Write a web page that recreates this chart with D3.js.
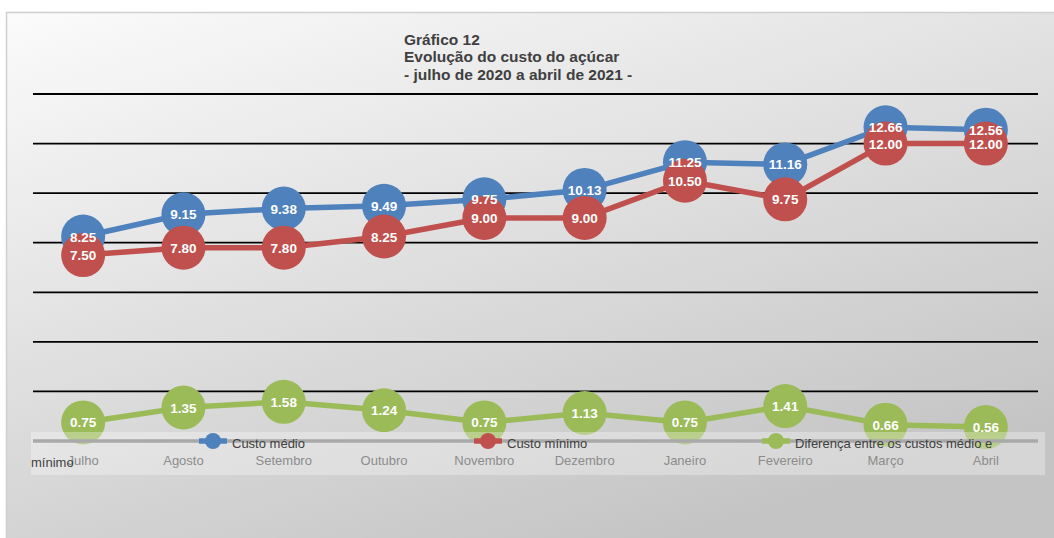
<!DOCTYPE html>
<html><head><meta charset="utf-8">
<script src="https://cdn.jsdelivr.net/npm/d3@7"></script>
<style>html,body{margin:0;padding:0;background:#fff;}svg{display:block;font-family:"Liberation Sans",Arial,sans-serif;}</style>
</head><body>
<svg id="c" width="1054" height="538"></svg>
<script>
const months = ["Julho","Agosto","Setembro","Outubro","Novembro","Dezembro","Janeiro","Fevereiro","Março","Abril"];
const custoMedio = [8.25,9.15,9.38,9.49,9.75,10.13,11.25,11.16,12.66,12.56];
const custoMinimo = [7.50,7.80,7.80,8.25,9.00,9.00,10.50,9.75,12.00,12.00];
const diferenca = [0.75,1.35,1.58,1.24,0.75,1.13,0.75,1.41,0.66,0.56];
const seriesNames = ["Custo médio","Custo mínimo","Diferença entre os custos médio e mínimo"];
const seriesColors = ["#4f81bd","#c0504d","#9bbb59"];
const gridTicks = [2,4,6,8,10,12,14];
const titleLines = ["Gráfico 12","Evolução do custo do açúcar","- julho de 2020 a abril de 2021 -"];

const svg = d3.select("#c");
const defs = svg.append("defs");
const grad = defs.append("linearGradient").attr("id","bg").attr("x1","0").attr("y1","0").attr("x2","0.6").attr("y2","1");
grad.append("stop").attr("offset","0").attr("stop-color","#fbfbfb");
grad.append("stop").attr("offset","1").attr("stop-color","#c4c4c4");
svg.append("rect").attr("x",6.5).attr("y",12.5).attr("width",1060).attr("height",540)
  .attr("fill","url(#bg)").attr("stroke","#cfcfcf").attr("stroke-width",1.5);

const x = d3.scaleBand().domain(months).range([33,1036]);
const y = d3.scaleLinear().domain([0,14]).range([441,94]);
const cx = m => x(m) + x.bandwidth()/2;

// title
const t = svg.append("text").attr("x",404).attr("font-size",15.5).attr("font-weight","bold").attr("fill","#404040");
titleLines.forEach((l,i)=> t.append("tspan").attr("x",404).attr("y",45+i*17.3).text(l));

// gridlines
svg.append("g").selectAll("line").data(gridTicks).join("line")
  .attr("x1",33).attr("x2",1038).attr("y1",d=>y(d)).attr("y2",d=>y(d))
  .attr("stroke","#000").attr("stroke-width",1.8);

const data = [custoMedio,custoMinimo,diferenca];
const line = d3.line().x((d,i)=>cx(months[i])).y(d=>y(d));
const R = 22;
data.forEach((vals,k)=>{
  svg.append("path").attr("d",line(vals)).attr("fill","none").attr("stroke",seriesColors[k]).attr("stroke-width",5.5).attr("stroke-linejoin","round");
  svg.append("g").selectAll("circle").data(vals).join("circle")
    .attr("cx",(d,i)=>cx(months[i])).attr("cy",d=>y(d)).attr("r",R).attr("fill",seriesColors[k]);
});

// axis line
svg.append("line").attr("x1",33).attr("x2",1038).attr("y1",y(0)).attr("y2",y(0)).attr("stroke","#858585").attr("stroke-width",3.5);

// legend box (drawn over plot, semi-transparent)
svg.append("rect").attr("x",31).attr("y",432).attr("width",1014).attr("height",43).attr("fill","#ffffff").attr("fill-opacity",0.3);

// axis tick labels
const xAxis = d3.axisBottom(x).tickSize(0).tickPadding(0);
const ga = svg.append("g").attr("transform","translate(0,456)").call(xAxis);
ga.select(".domain").remove();
ga.selectAll("text").attr("font-size",13).attr("fill","#8c8c8c").attr("font-family","Liberation Sans, Arial, sans-serif").attr("dy","0.71em").attr("y",0);

// data labels
data.forEach((vals,k)=>{
  svg.append("g").selectAll("text").data(vals).join("text")
    .attr("x",(d,i)=>cx(months[i])).attr("y",d=>y(d)+5)
    .attr("text-anchor","middle").attr("font-size",13.5).attr("font-weight","bold").attr("fill","#fff")
    .text(d=>d.toFixed(2));
});

// legend
const legX = [213,488,776];
const lg = svg.append("g");
seriesNames.forEach((n,k)=>{
  lg.append("line").attr("x1",legX[k]-14).attr("x2",legX[k]+14).attr("y1",441).attr("y2",441).attr("stroke",seriesColors[k]).attr("stroke-width",5.5);
  lg.append("circle").attr("cx",legX[k]).attr("cy",441).attr("r",8).attr("fill",seriesColors[k]);
});
const words = seriesNames[2].split(" ");
const lastWord = words.pop();
const legText = [seriesNames[0],seriesNames[1],words.join(" ")];
legText.forEach((n,k)=>{
  lg.append("text").attr("x",legX[k]+19).attr("y",447.5).attr("font-size",13).attr("fill","#404040").text(n);
});
lg.append("text").attr("x",31).attr("y",467).attr("font-size",13).attr("fill","#404040").text(lastWord);
</script>
</body></html>
